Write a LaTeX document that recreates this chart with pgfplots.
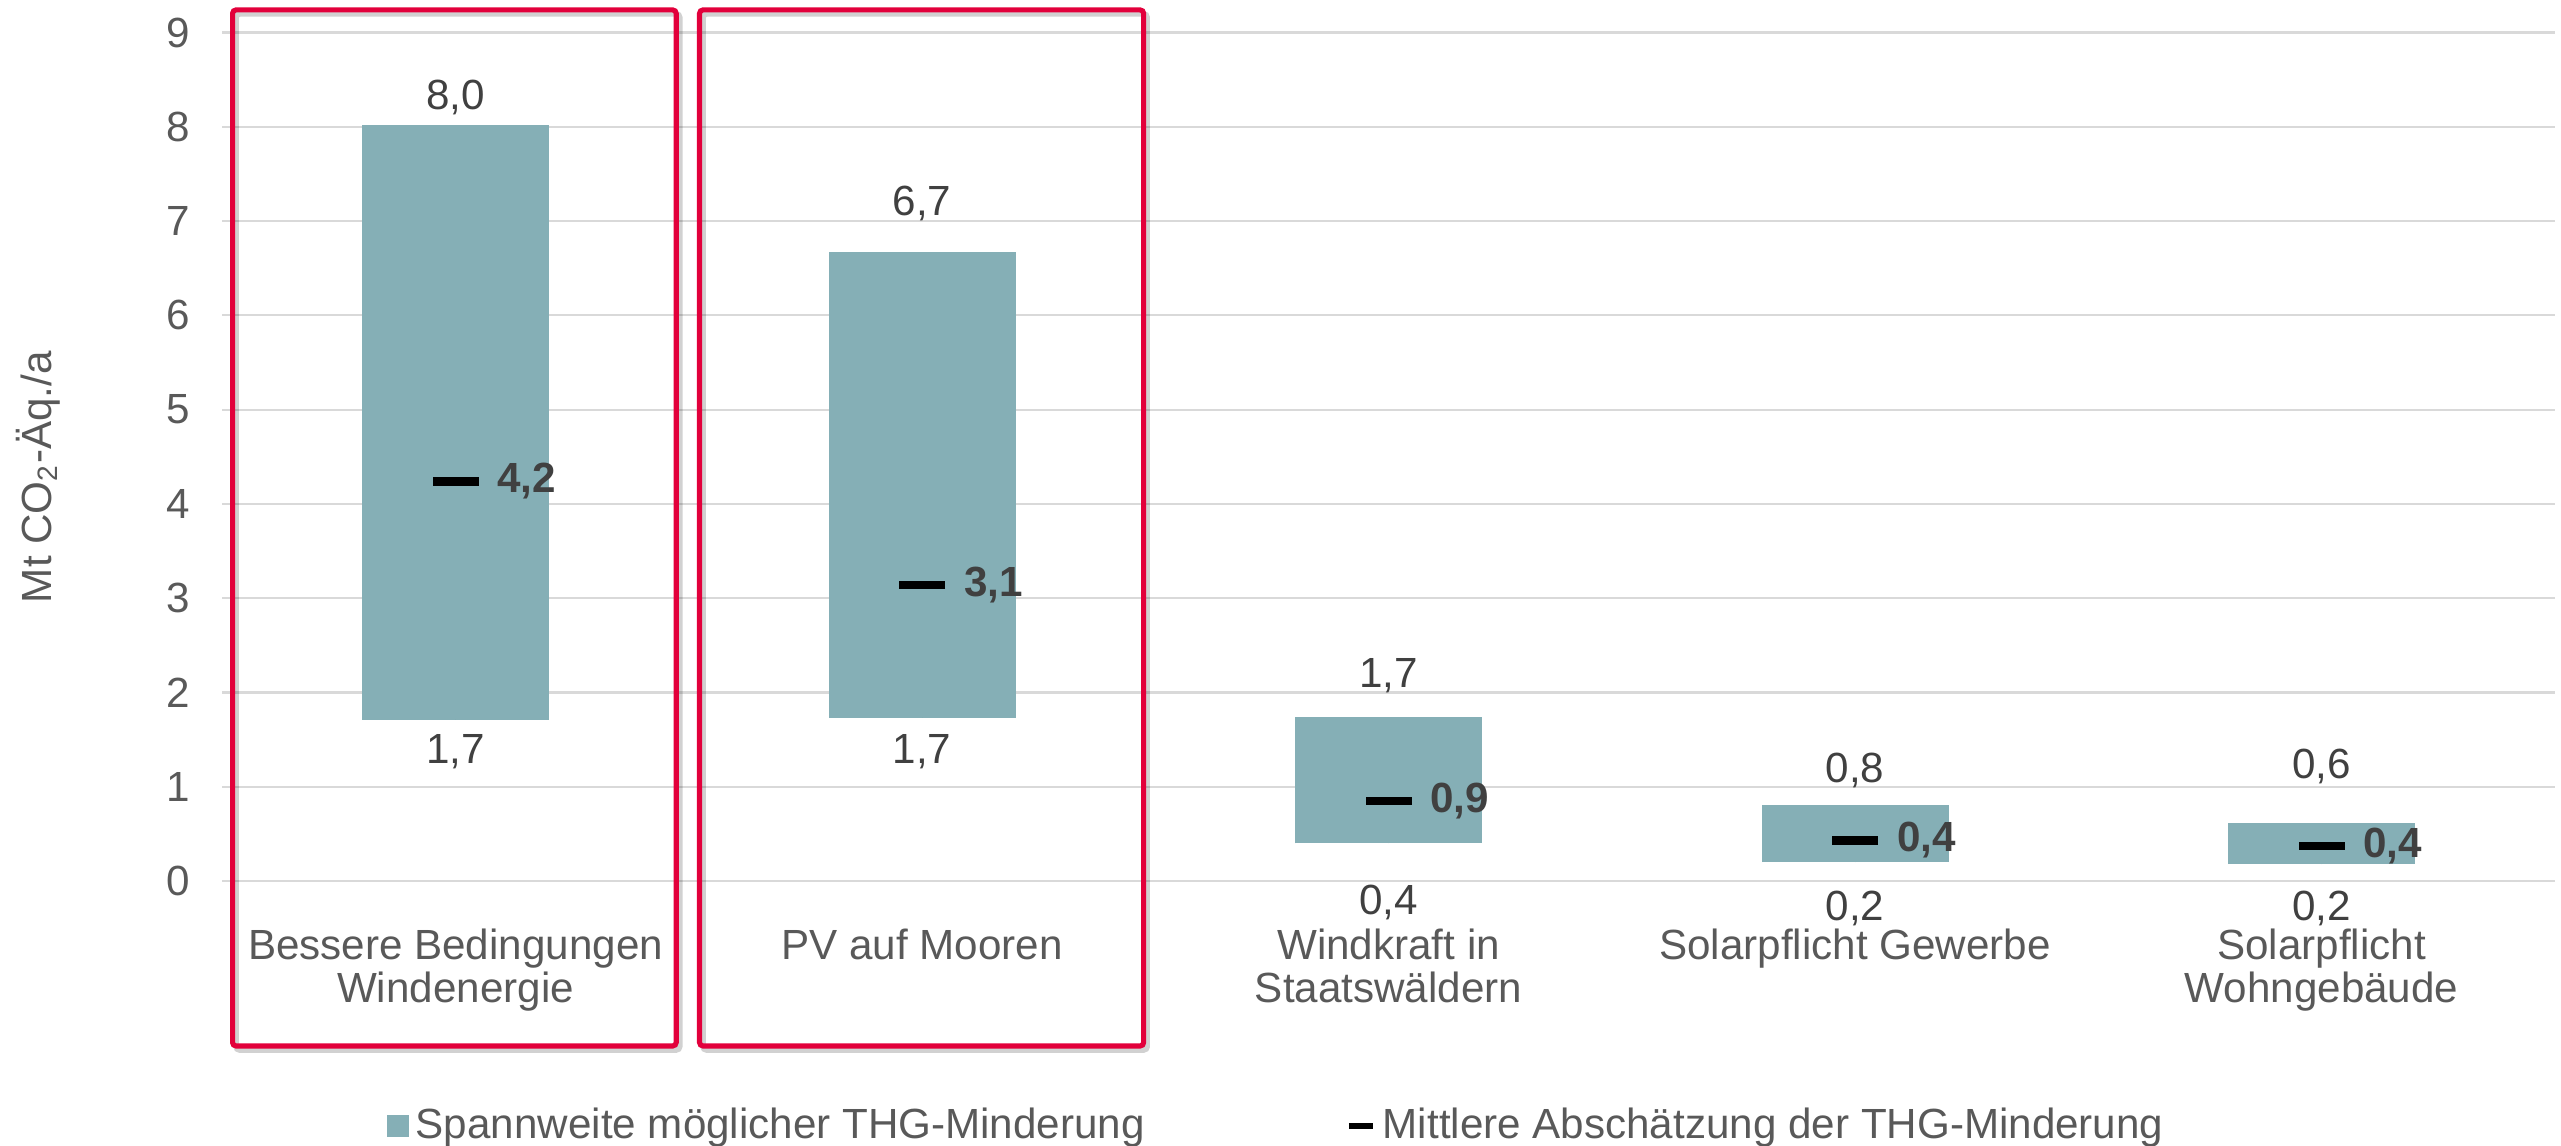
\documentclass[border=0pt]{standalone}
\usepackage{fontspec}
\setmainfont{Liberation Sans}
\usepackage{pgfplots}
\pgfplotsset{compat=1.18}
\usepackage{pgfplotstable}

\definecolor{barc}{RGB}{133,175,182}
\definecolor{redbox}{RGB}{226,0,59}
\definecolor{txt}{RGB}{64,64,64}
\definecolor{ticktxt}{RGB}{89,89,89}
\definecolor{gridc}{RGB}{217,217,217}
\newcommand\fs{\fontsize{12}{12.2}\selectfont}

\pgfplotstableread{
x lo hi mean toppos botpos toplab botlab meanlab
0 1.71 8.02 4.24 8.34 1.41 8,0 1,7 4,2
1 1.73 6.67 3.14 7.22 1.41 6,7 1,7 3,1
2 0.40 1.74 0.85 2.21 -0.20 1,7 0,4 0,9
3 0.20 0.81 0.43 1.20 -0.26 0,8 0,2 0,4
4 0.18 0.62 0.37 1.25 -0.26 0,6 0,2 0,4
}\data

\begin{document}
\begin{tikzpicture}
\path[use as bounding box] (0,0) rectangle (25.61cm,11.45cm);
\begin{axis}[
  at={(2.223cm,2.64cm)}, anchor=south west,
  scale only axis, width=23.325cm, height=8.485cm,
  xmin=-0.5, xmax=4.5, ymin=0, ymax=9,
  ytick={0,1,...,9}, xtick={0,1,2,3,4},
  xticklabels={{Bessere Bedingungen\\Windenergie},{PV auf Mooren},{Windkraft in\\Staatswäldern},{Solarpflicht Gewerbe},{Solarpflicht\\Wohngebäude}},
  xticklabel style={align=center, anchor=north, yshift=-0.36cm, font=\fs, text=ticktxt},
  yticklabel style={font=\fs, text=ticktxt, xshift=-0.2cm},
  /pgf/number format/assume math mode=true,
  axis line style={draw=none},
  major tick length=0pt,
  ymajorgrids, grid style={gridc, line width=0.6pt},
  clip=false,
  ylabel={Mt CO\textsubscript{2}-Äq./a},
  ylabel style={at={(axis description cs:-0.079,0.476)}, anchor=center, font=\fs, text=ticktxt},
  legend style={at={(axis description cs:0.453,-0.2887)}, anchor=center, draw=none, fill=none,
    legend columns=2, font=\fs, text=ticktxt,
    /tikz/every even column/.append style={column sep=1.94cm},
    nodes={inner xsep=0.07cm}},
]
% red boxes with shadow
\draw[black, opacity=0.18, line width=1.6pt, rounded corners=1pt]
  ([xshift=0.035cm,yshift=-0.04cm]axis cs:-0.478,-1.75) rectangle ([xshift=0.035cm,yshift=-0.04cm]axis cs:0.473,9.24);
\draw[black, opacity=0.18, line width=1.6pt, rounded corners=1pt]
  ([xshift=0.035cm,yshift=-0.04cm]axis cs:0.523,-1.75) rectangle ([xshift=0.035cm,yshift=-0.04cm]axis cs:1.475,9.24);
\draw[redbox, line width=1.45pt, rounded corners=1pt] (axis cs:-0.478,-1.75) rectangle (axis cs:0.473,9.24);
\draw[redbox, line width=1.45pt, rounded corners=1pt] (axis cs:0.523,-1.75) rectangle (axis cs:1.475,9.24);

% floating bars (range lo..hi)
\addplot[forget plot, only marks, mark=none, mark size=0pt,
  mark options={draw=none, fill=none},
  error bars/.cd, y dir=plus, y explicit, error mark=none,
  error bar style={line width=1.87cm, barc, line cap=butt}]
  table[x=x, y=lo, y error expr=\thisrow{hi}-\thisrow{lo}] {\data};

% mean markers with bold labels
\addplot[forget plot, only marks, mark=-, mark size=0.23cm,
  mark options={line width=0.085cm, black},
  nodes near coords, point meta=explicit symbolic,
  nodes near coords style={anchor=west, xshift=0.26cm, font=\bfseries\fs, text=txt}]
  table[x=x, y=mean, meta=meanlab] {\data};

% top labels
\addplot[forget plot, only marks, mark=none,
  nodes near coords, point meta=explicit symbolic,
  nodes near coords style={anchor=base, yshift=-4.3pt, font=\fs, text=txt}]
  table[x=x, y=toppos, meta=toplab] {\data};

% bottom labels
\addplot[forget plot, only marks, mark=none,
  nodes near coords, point meta=explicit symbolic,
  nodes near coords style={anchor=base, yshift=-4.3pt, font=\fs, text=txt}]
  table[x=x, y=botpos, meta=botlab] {\data};

\addlegendimage{legend image code/.code={\fill[barc] (0cm,-0.1cm) rectangle (0.2cm,0.1cm);}}
\addlegendentry{Spannweite möglicher THG-Minderung}
\addlegendimage{legend image code/.code={\draw[black, line width=0.06cm] (0cm,0cm) -- (0.24cm,0cm);}}
\addlegendentry{Mittlere Abschätzung der THG-Minderung}
\end{axis}
\end{tikzpicture}
\end{document}
